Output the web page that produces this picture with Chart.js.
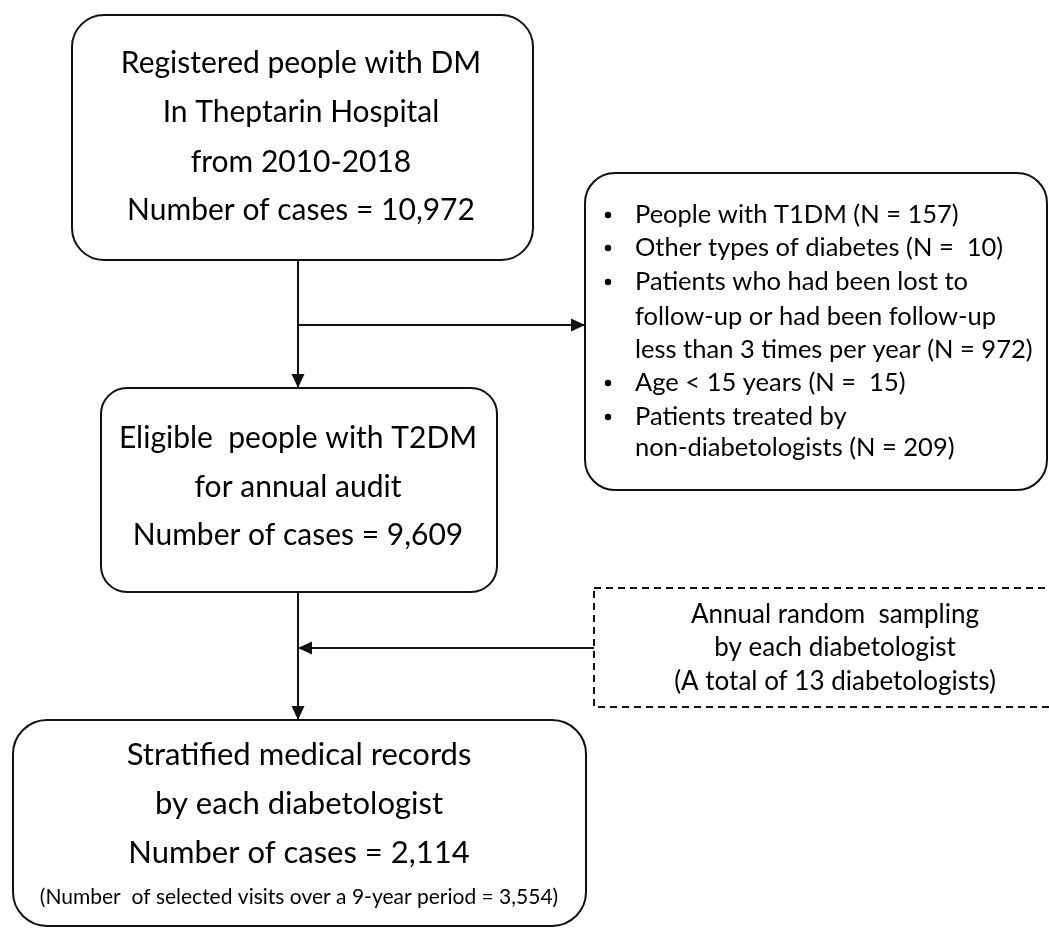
<!DOCTYPE html>
<html><head><meta charset="utf-8">
<script src="https://cdn.jsdelivr.net/npm/chart.js@4.4.0/dist/chart.umd.min.js"></script>
<style>html,body{margin:0;padding:0;background:#fff;overflow:hidden}#wrap{position:relative;width:1049px;height:928px}</style>
</head><body><div id="wrap"><canvas id="c" width="1049" height="928"></canvas></div>
<script>
// ---- data ----
const caseCounts = [10972, 9609, 2114];
const registryPlace = 'In Theptarin Hospital';
const registryYears = ['2010', '2018'];
const exclusionLabels = [
  ['People with T1DM'],
  ['Other types of diabetes'],
  ['Patients who had been lost to', 'follow-up or had been follow-up', 'less than 3 times per year'],
  ['Age < 15 years'],
  ['Patients treated by', 'non-diabetologists']
];
const exclusionCounts = [157, 10, 972, 15, 209];
const exclusionPad = ['', ' ', '', ' ', ''];
const diabetologistCount = 13;
const selectedVisits = 3554;
const studyYears = 9;

const fmt = n => n.toLocaleString('en-US');

// ---- layout (diagram space, 1 unit = 1 px) ----
const FONT = 'Lato, "Noto Sans", sans-serif';
const layout = {
  box1: {x0: 72, x1: 533, y0: 15, y1: 260, r: 32, cx: 301, ys: [63, 112, 162, 210], size: 30},
  box2: {x0: 101, x1: 497, y0: 388, y1: 592, r: 26, cx: 298, ys: [438, 487, 535], size: 30},
  box3: {x0: 13, x1: 586, y0: 720, y1: 926, r: 34, cx: 299, ys: [755, 804, 853], size: 31, smallY: 897, smallSize: 21},
  excl: {x0: 585, x1: 1047, y0: 173, y1: 490, r: 30, bx: 608, tx: 635, ys: [215, 248, 282, 317, 350, 383, 417, 448], size: 25.5},
  dash: {x0: 594, x1: 1056, y0: 588, y1: 707, cx: 835, ys: [615, 648, 682], size: 26},
  trunkX: 298, branch1Y: 325, branch2Y: 648
};

const box1Lines = ['Registered people with DM', registryPlace, 'from ' + registryYears.join('-'), 'Number of cases = ' + fmt(caseCounts[0])];
const box2Lines = ['Eligible  people with T2DM', 'for annual audit', 'Number of cases = ' + fmt(caseCounts[1])];
const box3Lines = ['Stratified medical records', 'by each diabetologist', 'Number of cases = ' + fmt(caseCounts[2])];
const box3Small = '(Number  of selected visits over a ' + studyYears + '-year period = ' + fmt(selectedVisits) + ')';
const dashLines = ['Annual random  sampling', 'by each diabetologist', '(A total of ' + diabetologistCount + ' diabetologists)'];

const flowPlugin = {
  id: 'flow',
  afterDraw(chart) {
    const ctx = chart.ctx, sx = chart.scales.x, sy = chart.scales.y;
    const X = v => sx.getPixelForValue(v), Y = v => sy.getPixelForValue(v);
    ctx.save();
    ctx.strokeStyle = '#111'; ctx.fillStyle = '#111'; ctx.lineWidth = 2;

    function rbox(b, dashed) {
      ctx.beginPath();
      if (dashed) { ctx.setLineDash([7, 5]); ctx.rect(X(b.x0), Y(b.y0), X(b.x1) - X(b.x0), Y(b.y1) - Y(b.y0)); }
      else ctx.roundRect(X(b.x0), Y(b.y0), X(b.x1) - X(b.x0), Y(b.y1) - Y(b.y0), b.r);
      ctx.stroke(); ctx.setLineDash([]);
    }
    function line(x0, y0, x1, y1) { ctx.beginPath(); ctx.moveTo(X(x0), Y(y0)); ctx.lineTo(X(x1), Y(y1)); ctx.stroke(); }
    function head(x, y, dir) {
      const L = 14, W = 6.5, px = X(x), py = Y(y);
      ctx.beginPath();
      if (dir === 'down') { ctx.moveTo(px, py); ctx.lineTo(px - W, py - L); ctx.lineTo(px + W, py - L); }
      if (dir === 'right') { ctx.moveTo(px, py); ctx.lineTo(px - L, py - W); ctx.lineTo(px - L, py + W); }
      if (dir === 'left') { ctx.moveTo(px, py); ctx.lineTo(px + L, py - W); ctx.lineTo(px + L, py + W); }
      ctx.closePath(); ctx.fill();
    }
    function centered(lines, cx, ys, size) {
      ctx.font = size + 'px ' + FONT; ctx.textAlign = 'center'; ctx.textBaseline = 'middle';
      lines.forEach((t, i) => ctx.fillText(t, X(cx), Y(ys[i])));
    }

    const L = layout;
    rbox(L.box1); rbox(L.box2); rbox(L.box3); rbox(L.excl); rbox(L.dash, true);
    line(L.trunkX, L.box1.y1, L.trunkX, L.box2.y0); head(L.trunkX, L.box2.y0, 'down');
    line(L.trunkX, L.branch1Y, L.excl.x0, L.branch1Y); head(L.excl.x0, L.branch1Y, 'right');
    line(L.trunkX, L.box2.y1, L.trunkX, L.box3.y0); head(L.trunkX, L.box3.y0, 'down');
    line(L.dash.x0, L.branch2Y, L.trunkX, L.branch2Y); head(L.trunkX, L.branch2Y, 'left');

    ctx.fillStyle = '#000';
    centered(box1Lines, L.box1.cx, L.box1.ys, L.box1.size);
    centered(box2Lines, L.box2.cx, L.box2.ys, L.box2.size);
    centered(box3Lines, L.box3.cx, L.box3.ys, L.box3.size);
    centered([box3Small], L.box3.cx, [L.box3.smallY], L.box3.smallSize);
    centered(dashLines, L.dash.cx, L.dash.ys, L.dash.size);

    ctx.font = L.excl.size + 'px ' + FONT; ctx.textAlign = 'left'; ctx.textBaseline = 'middle';
    let k = 0;
    exclusionLabels.forEach((lines, i) => {
      lines.forEach((t, j) => {
        const y = L.excl.ys[k++];
        if (j === 0) { ctx.beginPath(); ctx.arc(X(L.excl.bx), Y(y), 3.2, 0, Math.PI * 2); ctx.fill(); }
        const txt = j === lines.length - 1 ? t + ' (N = ' + exclusionPad[i] + exclusionCounts[i] + ')' : t;
        ctx.fillText(txt, X(L.excl.tx), Y(y));
      });
    });
    ctx.restore();
  }
};

new Chart(document.getElementById('c'), {
  type: 'scatter',
  data: { datasets: [{ data: [], pointRadius: 0 }] },
  options: {
    responsive: false, animation: false, events: [],
    layout: { padding: 0 },
    plugins: { legend: { display: false }, tooltip: { enabled: false } },
    scales: {
      x: { type: 'linear', min: 0, max: 1049, display: false },
      y: { type: 'linear', min: 0, max: 928, reverse: true, display: false }
    }
  },
  plugins: [flowPlugin]
});
</script></body></html>
